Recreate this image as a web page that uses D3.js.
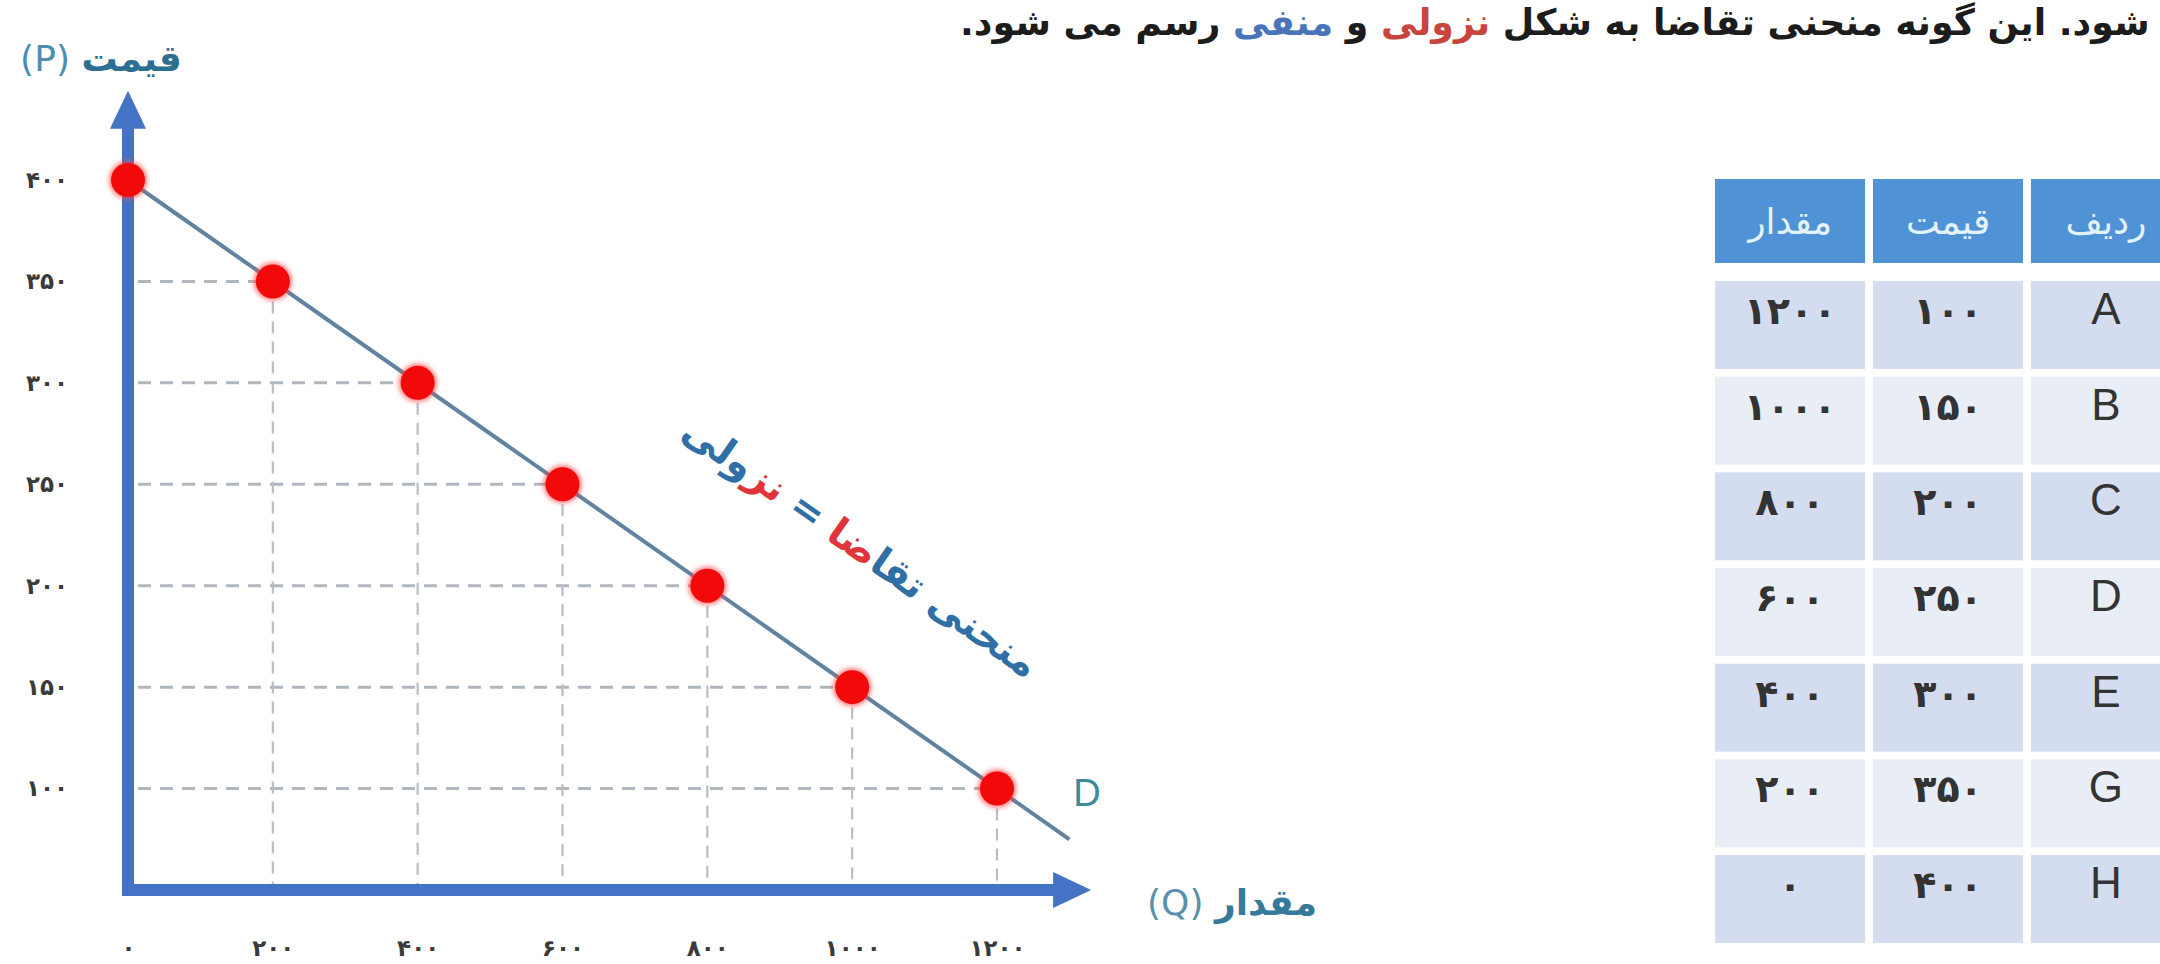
<!DOCTYPE html>
<html><head><meta charset="utf-8">
<script src="https://d3js.org/d3.v7.min.js"></script>
<style>html,body{margin:0;padding:0;background:#fff;overflow:hidden}</style>
</head><body>
<svg id="c" width="2160" height="964"></svg>
<script>
// ---- data ----
const rowLabels = ["A","B","C","D","E","G","H"];
const prices = [100,150,200,250,300,350,400];
const quantities = [1200,1000,800,600,400,200,0];
const priceTicks = [100,150,200,250,300,350,400];
const quantityTicks = [0,200,400,600,800,1000,1200];
const tableColumns = ["quantity","price","row"];
const tableHeaders = ["مقدار","قیمت","ردیف"];
const demandEnd = {q:1300, p:75};
const axisExtent = {q:1330, p:444, pBase:50};

const faDigits = "۰۱۲۳۴۵۶۷۸۹";
const toFa = v => String(v).replace(/\d/g, d => faDigits[+d]);

const FA = "'DejaVu Sans', sans-serif";
const LAT = "'Liberation Sans', Arial, sans-serif";
const svg = d3.select("#c");

const defs = svg.append("defs");
defs.append("filter").attr("id","glow").attr("x","-50%").attr("y","-50%").attr("width","200%").attr("height","200%")
  .append("feGaussianBlur").attr("stdDeviation",2.5);

const x = d3.scaleLinear().domain([0,1200]).range([128,997]);
const y = d3.scaleLinear().domain([axisExtent.pBase,400]).range([890,180]);

const pts = rowLabels.map((r,i)=>({r, p:prices[i], q:quantities[i]}));

// ---- guides ----
svg.append("g").selectAll("line.h").data(pts.filter(d=>d.q>0)).join("line").attr("class","h")
  .attr("x1", x(0)+10).attr("x2", d=>x(d.q)).attr("y1", d=>y(d.p)).attr("y2", d=>y(d.p))
  .attr("stroke","#b0b6be").attr("stroke-width",3).attr("stroke-dasharray","13,9");
svg.append("g").selectAll("line.v").data(pts.filter(d=>d.q>0)).join("line").attr("class","v")
  .attr("x1", d=>x(d.q)).attr("x2", d=>x(d.q)).attr("y1", d=>y(d.p)).attr("y2", y(axisExtent.pBase)-6)
  .attr("stroke","#b8bec6").attr("stroke-width",2.2).attr("stroke-dasharray","12,8");

// ---- demand line ----
svg.append("line")
  .attr("x1", x(0)).attr("y1", y(400)).attr("x2", x(demandEnd.q)).attr("y2", y(demandEnd.p))
  .attr("stroke","#6283a0").attr("stroke-width",4);

// ---- axes ----
const axisColor = "#4472c4";
const x0 = x(0), y0 = y(axisExtent.pBase), yTip = y(axisExtent.p), xTip = x(axisExtent.q);
const head = 38, half = 18;
svg.append("path")
  .attr("d", `M${x0},${yTip+head-2} L${x0},${y0} L${xTip-head+2},${y0}`)
  .attr("fill","none").attr("stroke",axisColor).attr("stroke-width",12).attr("stroke-linejoin","miter");
svg.append("path").attr("d", `M${x0},${yTip} L${x0-half},${yTip+head} L${x0+half},${yTip+head} Z`).attr("fill",axisColor);
svg.append("path").attr("d", `M${xTip},${y0} L${xTip-head},${y0-half} L${xTip-head},${y0+half} Z`).attr("fill",axisColor);

// tick labels
svg.append("g").attr("transform",`translate(${x0},0)`)
  .call(d3.axisLeft(y).tickValues(priceTicks).tickSize(0).tickPadding(60).tickFormat(toFa))
  .call(g=>g.select(".domain").remove())
  .selectAll("text").attr("font-family",FA).attr("font-size",23).attr("font-weight","bold").attr("fill","#3a3a3a");
svg.append("g").attr("transform",`translate(0,${y0})`)
  .call(d3.axisBottom(x).tickValues(quantityTicks).tickSize(0).tickPadding(50).tickFormat(toFa))
  .call(g=>g.select(".domain").remove())
  .selectAll("text").attr("font-family",FA).attr("font-size",23).attr("font-weight","bold").attr("fill","#3a3a3a");

// ---- points ----
const pg = svg.append("g");
pg.selectAll("circle.g").data(pts).join("circle").attr("class","g")
  .attr("cx", d=>x(d.q)).attr("cy", d=>y(d.p)).attr("r",19)
  .attr("fill","#ff4040").attr("opacity",0.7).attr("filter","url(#glow)");
pg.selectAll("circle.p").data(pts).join("circle").attr("class","p")
  .attr("cx", d=>x(d.q)).attr("cy", d=>y(d.p)).attr("r",17)
  .attr("fill","#f20a0a");

// ---- labels ----
const ptitle = svg.append("text").attr("x",101).attr("y",71).attr("text-anchor","middle")
  .attr("direction","rtl").attr("font-family",FA).attr("font-size",36).attr("font-weight","bold");
ptitle.append("tspan").text("قیمت").attr("fill","#2d6f91");
ptitle.append("tspan").text(" (P)").attr("fill","#4d8db0").attr("font-weight","normal");

const qtitle = svg.append("text").attr("x",1232).attr("y",915).attr("text-anchor","middle")
  .attr("direction","rtl").attr("font-family",FA).attr("font-size",36).attr("font-weight","bold");
qtitle.append("tspan").text("مقدار").attr("fill","#357a9a");
qtitle.append("tspan").text(" (Q)").attr("fill","#5890ad").attr("font-weight","normal");

svg.append("text").attr("x",1087).attr("y",806).attr("text-anchor","middle")
  .attr("font-family",LAT).attr("font-size",38).attr("fill","#3d8a9a").text("D");

const rot = svg.append("text").attr("transform","translate(861,547) rotate(35)")
  .attr("text-anchor","middle").attr("dy","0.35em").attr("direction","rtl")
  .attr("font-family",FA).attr("font-size",39).attr("font-weight","bold");
[["منحنی تقا","#2f6fa5"],["ضا","#e0353b"],[" = ","#2f6fa5"],["نز","#e0353b"],["ولی","#2f6fa5"]]
  .forEach(([t,c])=>rot.append("tspan").text(t).attr("fill",c));

// top sentence
const topText = svg.append("text").attr("y",35).attr("text-anchor","middle").attr("direction","rtl")
  .attr("font-family",FA).attr("font-size",39).attr("font-weight","bold").attr("fill","#1c1c1c");
[["شود. این گونه منحنی تقاضا به شکل ","#1c1c1c"],["نزولی","#c8453e"],[" و ","#1c1c1c"],["منفی","#4a74b8"],[" رسم می شود.","#1c1c1c"]]
  .forEach(([t,c])=>topText.append("tspan").text(t).attr("fill",c));
const tw0 = topText.node().getComputedTextLength();
topText.attr("font-size", 39 * 1190 / tw0);
const tw = topText.node().getComputedTextLength();
topText.attr("x", 960 + tw/2);

// ---- table ----
const cols = d3.scaleBand().domain(tableColumns).range([1715,2181]).paddingInner(0.05);
const rows = d3.scaleBand().domain(rowLabels).range([281,943]).paddingInner(0.08);
const tg = svg.append("g");
tg.selectAll("rect.hd").data(tableColumns).join("rect").attr("class","hd")
  .attr("x", d=>cols(d)).attr("y",179).attr("width",cols.bandwidth()).attr("height",84).attr("fill","#4f93d6");
tg.selectAll("text.hd").data(tableColumns).join("text").attr("class","hd")
  .attr("x", d=>cols(d)+cols.bandwidth()/2).attr("y",221).attr("dy","0.35em")
  .attr("text-anchor","middle").attr("direction","rtl").attr("font-family",FA).attr("font-size",36)
  .attr("fill","#e4f2fc").text((d,i)=>tableHeaders[i]);

const cellData = [];
pts.forEach((d,i)=>{
  cellData.push({row:d.r, col:"quantity", txt:toFa(d.q), i, lat:false});
  cellData.push({row:d.r, col:"price", txt:toFa(d.p), i, lat:false});
  cellData.push({row:d.r, col:"row", txt:d.r, i, lat:true});
});
tg.selectAll("rect.c").data(cellData).join("rect").attr("class","c")
  .attr("x", d=>cols(d.col)).attr("y", d=>rows(d.row)).attr("width",cols.bandwidth()).attr("height",rows.bandwidth())
  .attr("fill", d=> d.i%2===0 ? "#d3ddef" : "#e8edf6");
tg.selectAll("text.c").data(cellData).join("text").attr("class","c")
  .attr("x", d=>cols(d.col)+cols.bandwidth()/2).attr("y", d=>rows(d.row)+43)
  .attr("text-anchor","middle")
  .attr("font-family", d=>d.lat?LAT:FA).attr("font-size", d=>d.lat?44:38)
  .attr("font-weight", d=>d.lat?"normal":"bold")
  .attr("fill","#333").text(d=>d.txt);
</script>
</body></html>
